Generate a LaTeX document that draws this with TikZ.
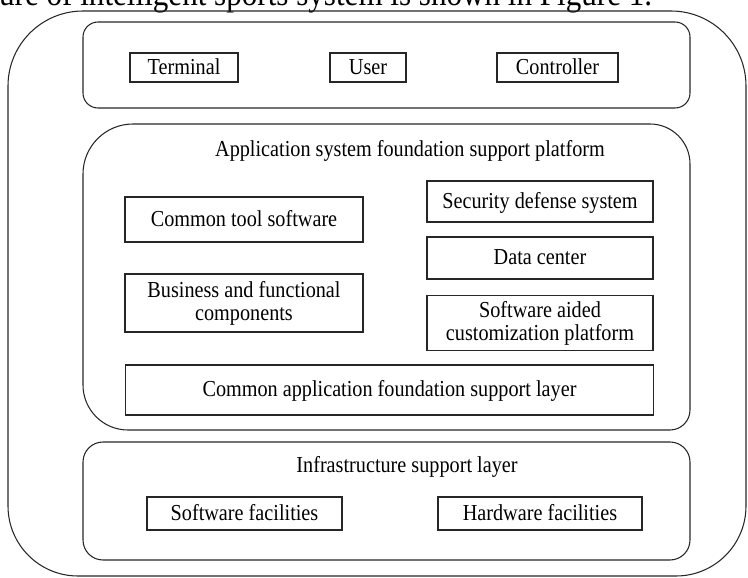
\documentclass[tikz,border=0pt]{standalone}
\usepackage{fontspec}
\setmainfont{Liberation Serif}[FakeStretch=0.885]
\begin{document}
\begin{tikzpicture}[x=0.02cm,y=-0.02cm,line width=0.6pt,
  box/.style={draw=black!85,rectangle,inner sep=1pt,align=center,font=\fontsize{13}{13}\selectfont},
  one/.style={text height=0.96em,text depth=0.2em},
  layer/.style={draw=black!85},
  title/.style={font=\fontsize{13}{13}\selectfont,text height=0.92em,text depth=0.2em}]
  \useasboundingbox (0,0) rectangle (748,578);
  \clip (0,0) rectangle (748,578);

  %%%%% caption line, cut off at the top %%%%%
  \node[anchor=base west,inner sep=0,font=\fontsize{20}{22}\selectfont] (caption) at (-10,6) {ture of intelligent sports system is shown in Figure 1.};

  %%%%% outer frame %%%%%
  \draw[layer] (8,300) [rounded corners=1.5cm] -- (8,11) [rounded corners=1.5cm] -- (746,11)
    [rounded corners=1.4cm] -- (746,576) [rounded corners=1.4cm] -- (8,576) [sharp corners] -- cycle;

  %%%%% top layer %%%%%
  \draw[layer,rounded corners=0.3cm] (83,22) rectangle (690,108);
  \node[box,one,minimum width=2.16cm,minimum height=0.58cm] (terminal) at (184,67.5) {Terminal};
  \node[box,one,minimum width=1.52cm,minimum height=0.58cm] (user) at (368,67.5) {User};
  \node[box,one,minimum width=2.42cm,minimum height=0.58cm] (controller) at (557.5,67.5) {Controller};

  %%%%% application platform %%%%%
  \draw[layer] (83,300) [rounded corners=1cm] -- (83,124) [rounded corners=0.8cm] -- (690,124)
    [rounded corners=0.4cm] -- (690,430) [rounded corners=0.9cm] -- (83,430) [sharp corners] -- cycle;
  \node[title] (platform) at (410,150) {Application system foundation support platform};
  \node[box,one,minimum width=4.76cm,minimum height=0.9cm] (tools) at (244,219.5) {Common tool software};
  \node[box,minimum width=4.76cm,minimum height=1.16cm] (business) at (244,303) {Business and functional\\components};
  \node[box,one,minimum width=4.52cm,minimum height=0.82cm] (security) at (540,201.5) {Security defense system};
  \node[box,one,minimum width=4.52cm,minimum height=0.84cm] (data) at (540,258) {Data center};
  \node[box,minimum width=4.52cm,minimum height=1.1cm] (custom) at (540,323) {Software aided\\customization platform};
  \node[box,one,minimum width=10.58cm,minimum height=1cm] (common) at (389.5,390) {Common application foundation support layer};

  %%%%% infrastructure %%%%%
  \draw[layer,rounded corners=0.4cm] (83,442) rectangle (690,560);
  \node[title] (infra) at (407,466) {Infrastructure support layer};
  \node[box,one,minimum width=3.9cm,minimum height=0.66cm] (softfac) at (244.5,513.5) {Software facilities};
  \node[box,one,minimum width=4.08cm,minimum height=0.66cm] (hardfac) at (540,513.5) {Hardware facilities};
\end{tikzpicture}
\end{document}
